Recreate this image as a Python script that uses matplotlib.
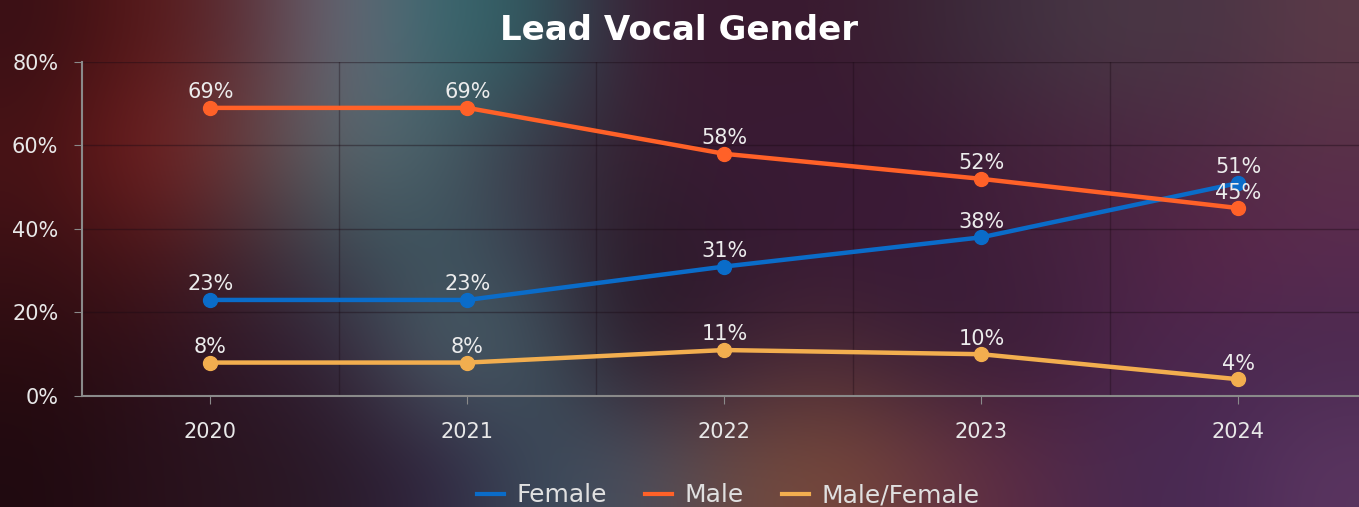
import matplotlib
matplotlib.use("Agg")
import matplotlib.pyplot as plt
import matplotlib.colors as mcolors
import numpy as np

years = [2020, 2021, 2022, 2023, 2024]
female = [23, 23, 31, 38, 51]
male = [69, 69, 58, 52, 45]
male_female = [8, 8, 11, 10, 4]
series = [("Female", female, "#0a6cc9"),
          ("Male", male, "#ff6128"),
          ("Male/Female", male_female, "#f2ae4f")]

# rough blurred backdrop colours (rows top -> bottom)
bg_rows = [
    ["#3a1015", "#5a1818", "#5a3038", "#6a6a78", "#3a6870", "#305a60", "#3a2035",
     "#3a1a30", "#3a1a30", "#3a2535", "#403040", "#4a3845", "#4a3545", "#5a3a48"],
    ["#4a1315", "#7a2020", "#6a4040", "#5a6a70", "#4a6068", "#3a3545", "#352030",
     "#3a1a35", "#3a1a35", "#3a1a35", "#45203a", "#4a2540", "#502a45", "#5a3048"],
    ["#3a1015", "#4a1518", "#402530", "#3a4550", "#3a5560", "#3a4050", "#2a1a28",
     "#321a30", "#3a1a35", "#3a1a38", "#42203c", "#4a2445", "#5a2548", "#5a2a50"],
    ["#2a0c10", "#30101a", "#30182a", "#35253a", "#50606a", "#405560", "#2a1a28",
     "#3a2035", "#4a2a35", "#3a2035", "#3a1c38", "#4a2448", "#4a2850", "#4a2a50"],
    ["#200a10", "#28101a", "#2a1520", "#2a1a2a", "#302540", "#3a4a5a", "#4a5060",
     "#6a4a45", "#7a4a3a", "#6a3a40", "#5a2a45", "#4a2a50", "#4a2a55", "#5a3560"],
]
bg = np.array([[mcolors.to_rgb(c) for c in row] for row in bg_rows])

plt.rcParams['font.family'] = ['DejaVu Sans']

fig = plt.figure(figsize=(13.59, 5.07), dpi=100)
bax = fig.add_axes([0, 0, 1, 1], zorder=-1)
bax.imshow(bg, aspect='auto', interpolation='bicubic', extent=[0, 1, 0, 1])
bax.axis('off')

ax = fig.add_axes([0.0603, 0.219, 0.9455, 0.6588])
ax.set_facecolor('none')

for name, vals, col in series:
    ax.plot(years, vals, color=col, lw=3.2, marker='o', ms=10, label=name, zorder=3)
    for x, v in zip(years, vals):
        ax.annotate(f"{v}%", (x, v), xytext=(0, 4), textcoords='offset points',
                    ha='center', va='bottom', color='#ececec', fontsize=15, zorder=4)

ax.set_xlim(2019.5, 2024.5)
ax.set_ylim(0, 80)
ax.set_xticks(years)
ax.set_xticklabels([str(y) for y in years])
ax.set_yticks([0, 20, 40, 60, 80])
ax.set_yticklabels([f"{t}%" for t in [0, 20, 40, 60, 80]])
ax.set_xticks([y + 0.5 for y in years[:-1]], minor=True)
ax.tick_params(axis='both', colors='#8a8a8a', labelcolor='#e8e8e8', labelsize=15, length=6)
ax.tick_params(axis='x', which='minor', length=0)
ax.tick_params(axis='x', pad=13)
ax.tick_params(axis='y', pad=11)
ax.grid(axis='y', color='#1a0a14', alpha=0.4, lw=1)
ax.grid(axis='x', which='minor', color='#1a0a14', alpha=0.35, lw=1)
for s in ['top', 'right']:
    ax.spines[s].set_visible(False)
for s in ['left', 'bottom']:
    ax.spines[s].set_color('#8a8a8a')
    ax.spines[s].set_linewidth(1.5)

fig.text(0.5, 0.94, "Lead Vocal Gender", ha='center', va='center',
         color='white', fontsize=24.5, fontweight='bold')

leg = fig.legend(loc='lower center', bbox_to_anchor=(0.536, -0.045), ncol=3, frameon=False,
                 fontsize=18, handlelength=1.1, columnspacing=1.5, handletextpad=0.5)
for h in leg.get_lines():
    h.set_marker('')
    h.set_linewidth(3)
for t in leg.get_texts():
    t.set_color('#e0e0e0')

fig.savefig("out.png", dpi=100)
